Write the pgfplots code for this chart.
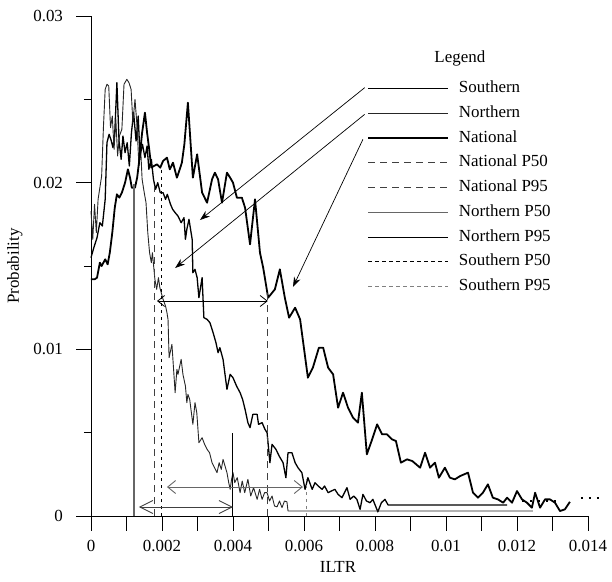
\documentclass[border=0pt]{standalone}
\usepackage{fontspec}
\setmainfont{Liberation Serif}
\usepackage{pgfplots}
\pgfplotsset{compat=1.18}
\usetikzlibrary{arrows.meta}

\begin{document}
\begin{tikzpicture}
\begin{axis}[
  scale only axis, width=497bp, height=500bp,
  xmin=0, xmax=0.014, ymin=0, ymax=0.03,
  axis lines*=left, axis line style={-, line width=0.8bp},
  clip=false,
  font=\fontsize{17}{20}\selectfont,
  scaled ticks=false,
  tick align=outside,
  major tick length=14.5bp, minor tick length=7bp,
  tick style={black, line width=0.7bp},
  xtick={0,0.001,0.002,0.003,0.004,0.005,0.006,0.007,0.008,0.009,0.01,0.011,0.012,0.013,0.014},
  xticklabels={0,,0.002,,0.004,,0.006,,0.008,,0.01,,0.012,,0.014},
  ytick={0,0.01,0.02,0.03}, yticklabels={0,0.01,0.02,0.03},
  minor ytick={0.005,0.015,0.025},
  xticklabel style={yshift=-6bp},
  yticklabel style={xshift=-10bp},
  xlabel={ILTR}, ylabel={Probability},
  xlabel style={at={(axis description cs:0.497,-0.102)}, anchor=center},
  ylabel style={at={(axis description cs:-0.153,0.5)}, anchor=center},
  legend cell align=left,
  legend image code/.code={\draw[#1] (0bp,0bp) -- (80bp,0bp);},
  legend style={draw=none, fill=none, at={(axis cs:0.00769,0.02625)}, anchor=north west,
    row sep=8.75bp, nodes={inner sep=0bp, text height=12bp, text depth=4bp},
    column sep=10bp},
]
% ---- distributions
\addplot[black, line width=1.3bp, line join=round] coordinates {
(0,0.0155)(0.00008,0.0161)(0.00017,0.0167)(0.00025,0.0176)(0.00032,0.0174)(0.0004,0.0190)(0.00045,0.0224)(0.00051,0.0229)(0.00056,0.0226)(0.00062,0.0221)(0.00067,0.0230)(0.00073,0.0260)(0.00079,0.0225)(0.00085,0.0214)(0.0009,0.0228)(0.00096,0.0218)(0.00102,0.0224)(0.00108,0.0210)(0.00114,0.0230)(0.0012,0.0242)(0.00127,0.0225)(0.00133,0.0240)(0.00138,0.0216)(0.00145,0.0223)(0.00152,0.0215)(0.00158,0.0222)(0.00163,0.0208)(0.0017,0.0214)(0.00176,0.0202)(0.00182,0.0196)(0.00188,0.0200)(0.00195,0.0194)(0.00203,0.0194)(0.0021,0.0190)(0.00215,0.0193)(0.00224,0.0187)(0.0023,0.0184)(0.00237,0.0182)(0.00245,0.0180)(0.00254,0.0176)(0.00262,0.0179)(0.00266,0.0166)(0.0027,0.0172)(0.00276,0.0178)(0.00285,0.0166)(0.00287,0.0146)(0.00293,0.0148)(0.00299,0.0143)(0.00304,0.0131)(0.00313,0.0143)(0.00318,0.0119)(0.00327,0.0118)(0.00335,0.0116)(0.00344,0.0110)(0.00352,0.0104)(0.00358,0.0098)(0.00363,0.0101)(0.00372,0.0094)(0.00383,0.0076)(0.00392,0.0085)(0.004,0.0083)(0.0041,0.0078)(0.0042,0.0074)(0.00427,0.0070)(0.00434,0.0064)(0.00442,0.0056)(0.00448,0.0053)(0.00456,0.0061)(0.00468,0.0061)(0.00472,0.0055)(0.00482,0.0056)(0.0049,0.0052)(0.00496,0.0050)(0.00504,0.0032)(0.0051,0.0043)(0.00521,0.0040)(0.0053,0.0036)(0.00541,0.0032)(0.00549,0.0023)(0.00555,0.0038)(0.00566,0.0038)(0.00575,0.0032)(0.00583,0.0029)(0.00594,0.0026)(0.00603,0.0016)(0.00611,0.0023)(0.00623,0.0016)(0.00631,0.0020)(0.0064,0.0018)(0.00651,0.0016)(0.00658,0.0018)(0.00668,0.0014)(0.00677,0.0015)(0.00687,0.0016)(0.00696,0.0013)(0.00707,0.0011)(0.00721,0.0017)(0.0073,0.0010)(0.0074,0.0012)(0.00749,0.0010)(0.00758,0.0004)(0.00766,0.0013)(0.00776,0.0009)(0.00786,0.0008)(0.00794,0.0010)(0.00808,0.00025)(0.00818,0.0008)(0.00828,0.0010)(0.00837,0.00066)(0.01172,0.00066)};
\addlegendentry{Southern}
\addplot[black!85, line width=0.9bp, line join=round] coordinates {
(0,0.0183)(0.00005,0.0166)(0.0001,0.0187)(0.00015,0.0170)(0.0002,0.0190)(0.00025,0.0197)(0.0003,0.0204)(0.00035,0.0233)(0.0004,0.0256)(0.00045,0.0259)(0.0005,0.0258)(0.00055,0.0233)(0.0006,0.0240)(0.00065,0.0220)(0.0007,0.0238)(0.00075,0.0216)(0.0008,0.0228)(0.00087,0.0232)(0.00093,0.0259)(0.00101,0.0262)(0.00107,0.0260)(0.00113,0.0256)(0.00118,0.0236)(0.00124,0.0250)(0.0013,0.0233)(0.00135,0.0210)(0.0014,0.0220)(0.00144,0.0202)(0.0015,0.0194)(0.00155,0.0188)(0.0016,0.0170)(0.00165,0.0158)(0.0017,0.0152)(0.00173,0.0158)(0.0018,0.0142)(0.00185,0.0136)(0.0019,0.0143)(0.00194,0.0137)(0.00203,0.0130)(0.0021,0.0126)(0.00214,0.0122)(0.00217,0.0118)(0.0022,0.0095)(0.00228,0.0103)(0.00237,0.0074)(0.00242,0.0088)(0.00245,0.0085)(0.00254,0.0094)(0.00259,0.0085)(0.00266,0.0078)(0.0027,0.0068)(0.00273,0.0073)(0.00278,0.0070)(0.00287,0.0055)(0.00293,0.0068)(0.00298,0.0062)(0.00304,0.0044)(0.00313,0.0047)(0.0032,0.0043)(0.00327,0.0040)(0.00334,0.0038)(0.00341,0.0032)(0.00348,0.0029)(0.00355,0.0026)(0.00361,0.0032)(0.00367,0.0028)(0.00372,0.0034)(0.00383,0.0026)(0.00388,0.0020)(0.00392,0.0016)(0.00396,0.0022)(0.004,0.0026)(0.00405,0.0020)(0.00412,0.0023)(0.0042,0.0014)(0.00426,0.0021)(0.00433,0.0014)(0.00442,0.0022)(0.0045,0.0012)(0.00458,0.0017)(0.00468,0.0010)(0.00475,0.0016)(0.00482,0.0010)(0.00489,0.0014)(0.00496,0.0014)(0.00503,0.0009)(0.0051,0.0012)(0.00517,0.0006)(0.00524,0.00055)(0.00531,0.0009)(0.00538,0.0005)(0.00545,0.0009)(0.00552,0.00085)(0.00555,0.0003)(0.01245,0.0003)};
\addlegendentry{Northern}
\addplot[black, line width=1.8bp, line join=round] coordinates {
(0,0.0142)(0.0001,0.0142)(0.00017,0.0143)(0.00025,0.0152)(0.0003,0.0150)(0.0004,0.0154)(0.00047,0.0151)(0.00053,0.0158)(0.0006,0.0170)(0.00067,0.0185)(0.00073,0.0193)(0.0008,0.0191)(0.00087,0.0194)(0.00096,0.0200)(0.00104,0.0208)(0.0011,0.0203)(0.00115,0.0197)(0.00124,0.0197)(0.0013,0.0203)(0.00137,0.0215)(0.00144,0.0230)(0.00152,0.0242)(0.00158,0.0230)(0.00164,0.0220)(0.0017,0.0209)(0.00177,0.0210)(0.00186,0.0211)(0.00195,0.0209)(0.00203,0.0213)(0.00214,0.0215)(0.00222,0.0208)(0.00231,0.0212)(0.00242,0.0203)(0.0025,0.0208)(0.00256,0.0212)(0.00263,0.0223)(0.00273,0.0248)(0.00287,0.0203)(0.00299,0.0217)(0.00313,0.0194)(0.00327,0.0188)(0.00341,0.0202)(0.00349,0.0206)(0.00358,0.0202)(0.00369,0.0188)(0.00383,0.0206)(0.00392,0.0203)(0.004,0.0200)(0.00411,0.0191)(0.00425,0.0191)(0.00434,0.0185)(0.00448,0.0163)(0.00462,0.0190)(0.00476,0.0158)(0.00485,0.0149)(0.00499,0.0131)(0.00518,0.0136)(0.00532,0.0148)(0.00546,0.0131)(0.00558,0.0119)(0.00575,0.0125)(0.00589,0.0118)(0.00611,0.0083)(0.00625,0.0089)(0.00642,0.0101)(0.00654,0.0101)(0.00668,0.0089)(0.00682,0.0085)(0.00696,0.0065)(0.0071,0.0074)(0.00724,0.0065)(0.00738,0.0059)(0.00752,0.0056)(0.00763,0.0074)(0.00777,0.0037)(0.00792,0.0046)(0.00806,0.0055)(0.0082,0.0049)(0.00834,0.0049)(0.00848,0.0046)(0.00859,0.0045)(0.00873,0.0032)(0.0089,0.0034)(0.00905,0.0033)(0.00927,0.0029)(0.00941,0.0038)(0.00955,0.0029)(0.00969,0.0032)(0.0098,0.0023)(0.00997,0.0029)(0.01011,0.0023)(0.01025,0.0022)(0.0104,0.0024)(0.01062,0.0026)(0.01076,0.0014)(0.0109,0.0011)(0.01104,0.0014)(0.01118,0.0019)(0.01132,0.0011)(0.01146,0.0010)(0.01161,0.0008)(0.01172,0.0011)(0.01186,0.0008)(0.012,0.0015)(0.01214,0.0010)(0.01228,0.0008)(0.01242,0.0005)(0.01251,0.0014)(0.01265,0.0005)(0.01279,0.0010)(0.01293,0.0010)(0.01307,0.0008)(0.01321,0.0003)(0.01335,0.0004)(0.01349,0.00085)};
\addlegendentry{National}
% ---- percentiles
\addplot[black!75, line width=1bp, dash pattern=on 7bp off 5bp] coordinates {(0.00178,0)(0.00178,0.0198)};
\addlegendentry{National P50}
\addplot[black!75, line width=1bp, dash pattern=on 7bp off 5bp] coordinates {(0.00498,0)(0.00498,0.0134)};
\addlegendentry{National P95}
\addplot[black!60, line width=1.3bp] coordinates {(0.00121,0)(0.00121,0.0199)};
\addlegendentry{Northern P50}
\addplot[black, line width=1bp] coordinates {(0.004,0)(0.004,0.0050)};
\addlegendentry{Northern P95}
\addplot[black, line width=1bp, dash pattern=on 3.5bp off 3.5bp] coordinates {(0.002,0)(0.002,0.0209)};
\addlegendentry{Southern P50}
\addplot[black!50, line width=1bp, dash pattern=on 3.5bp off 3.5bp] coordinates {(0.00608,0)(0.00608,0.0022)};
\addlegendentry{Southern P95}
% ---- trailing dots
\addplot[forget plot, black, line width=2.2bp, dash pattern=on 2.5bp off 5.5bp] coordinates {(0.01214,0.0009)(0.0132,0.0009)};
\addplot[forget plot, black, line width=2.2bp, dash pattern=on 2.5bp off 5.5bp] coordinates {(0.0138,0.0011)(0.0143,0.0011)};
% ---- spread arrows
\draw[black, line width=0.8bp, {Straight Barb[length=7bp,width=11bp]}-{Straight Barb[length=7bp,width=11bp]}]
  (axis cs:0.00186,0.0129) -- (axis cs:0.00498,0.0129);
\draw[black!60, line width=0.9bp, {Straight Barb[length=8bp,width=13bp]}-{Straight Barb[length=8bp,width=13bp]}]
  (axis cs:0.00214,0.00174) -- (axis cs:0.00597,0.00174);
\draw[black!75, line width=0.9bp, {Straight Barb[length=13bp,width=13bp]}-{Straight Barb[length=13bp,width=13bp]}]
  (axis cs:0.00135,0.00054) -- (axis cs:0.0040,0.00054);
% ---- legend pointers
\draw[black, line width=0.7bp, -{Stealth[length=10bp,width=7bp]}] (axis cs:0.00771,0.0257) -- (axis cs:0.00307,0.01776);
\draw[black, line width=0.7bp, -{Stealth[length=10bp,width=7bp]}] (axis cs:0.00771,0.0241) -- (axis cs:0.00237,0.01488);
\draw[black, line width=0.7bp, -{Stealth[length=10bp,width=7bp]}] (axis cs:0.00766,0.0226) -- (axis cs:0.00569,0.01374);
\node at (axis cs:0.01039,0.02748) {Legend};
% ---- page frame
\path (axis cs:-0.002563,-0.0039) rectangle (axis cs:0.014676,0.03096);
\end{axis}
\end{tikzpicture}
\end{document}
